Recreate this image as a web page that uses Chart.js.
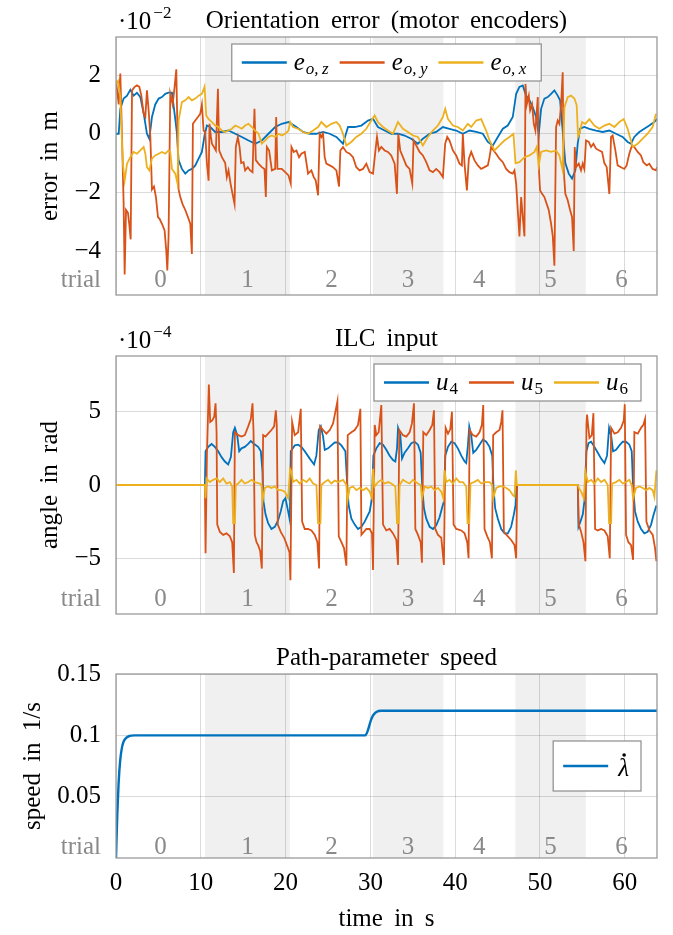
<!DOCTYPE html>
<html>
<head>
<meta charset="utf-8">
<script src="https://cdn.jsdelivr.net/npm/chart.js"></script>
<style>
html, body { margin: 0; padding: 0; background: #fff; }
#wrap { position: relative; width: 673px; height: 935px; }
.box { position: absolute; left: 0; width: 673px; }
</style>
</head>
<body>
<div id="wrap">
  <div class="box" style="top:0;height:300px"><canvas id="errChart"></canvas></div>
  <div class="box" style="top:320px;height:300px"><canvas id="ilcChart"></canvas></div>
  <div class="box" style="top:640px;height:295px"><canvas id="speedChart"></canvas></div>
</div>
<script>
// ---- data (time in s) ----

// trial boundaries in s, shaded trials and their labels
const trialEdges = [0, 10.5, 20.5, 30.3, 38.6, 47.1, 55.4, 63.8];
const trialNames = ['0', '1', '2', '3', '4', '5', '6'];
const shadedTrials = [1, 3, 5];

const xTicks = [0, 10, 20, 30, 40, 50, 60];
const xMax = 63.8;

// orientation error, units of 1e-2 m
const errTicks = [-4, -2, 0, 2];
const eoz = [[0,0],[0.32,0],[0.51,0.85],[0.9,1.2],[1.3,1.3],[1.69,1.5],[2.08,1.3],[2.47,1.4],[2.87,1.25],[3.26,0.7],[3.65,0],[3.93,-0.17],[4.24,0.57],[4.63,1.0],[5.03,1.2],[5.42,1.25],[5.81,1.36],[6.2,1.4],[6.6,1.4],[6.99,0.5],[7.19,0],[7.38,-0.9],[7.77,-1.2],[8.17,-1.36],[8.56,-1.25],[8.95,-1.2],[9.35,-1.08],[9.74,-0.85],[10.13,-0.62],[10.44,-0.06],[10.72,0.28],[11.11,0.23],[11.7,0.06],[12.49,0.06],[13.27,0.11],[14.06,0],[14.84,-0.11],[15.63,-0.23],[16.41,-0.34],[17.2,-0.23],[17.98,0],[18.77,0.23],[19.55,0.34],[20.34,0.4],[21.28,0.23],[22.06,0.06],[22.85,0],[23.63,0],[24.42,0.06],[25.2,0],[25.99,-0.11],[26.77,-0.34],[27.36,0.23],[28.15,0.23],[28.93,0.28],[29.72,0.45],[30.31,0.51],[30.89,0.23],[31.68,0.11],[32.46,0],[33.25,0],[34.03,-0.06],[34.82,-0.17],[35.6,-0.34],[36.19,-0.17],[36.98,0],[37.76,0.06],[38.55,0.23],[39.33,0.17],[40.12,0.11],[40.9,0],[41.69,0.11],[42.48,0.06],[43.26,0],[43.85,-0.28],[44.44,-0.4],[45.03,-0.11],[45.62,0.17],[46.2,0.28],[46.79,0.57],[47.19,1.36],[47.58,1.6],[47.97,1.65],[48.36,1.3],[48.76,1.14],[49.15,0.9],[49.54,0.57],[49.86,0],[50.13,0.85],[50.52,1.2],[50.92,1.25],[51.31,1.36],[51.7,1.48],[52.09,1.3],[52.37,1.14],[52.68,0.1],[52.99,-1.0],[53.39,-1.36],[53.78,-1.53],[54.17,-1.25],[54.45,-0.34],[54.72,0.17],[55.23,0.23],[55.82,0.17],[56.61,0.11],[57.39,0.06],[58.18,0.11],[58.96,0],[59.75,-0.11],[60.34,-0.28],[60.73,-0.34],[61.12,-0.11],[61.71,0.06],[62.3,0.17],[62.89,0.28],[63.48,0.4],[63.8,0.51]];
const eoy = [[0,1.8],[0.32,1.0],[0.51,2.05],[0.71,-0.1],[0.9,-2.4],[1.02,-4.8],[1.18,-2.6],[1.41,-2.7],[1.57,-3.1],[1.73,-3.6],[1.89,1.48],[2.2,1.6],[2.47,1.65],[2.75,1.6],[2.99,1.3],[3.26,0.68],[3.46,0.57],[3.65,1.48],[3.85,0.8],[4.05,-0.1],[4.24,-1.9],[4.48,-1.8],[4.71,-2.16],[4.95,-2.84],[5.14,-2.9],[5.42,-3.07],[5.73,-3.3],[5.93,-4.0],[6.05,-4.66],[6.2,-3.5],[6.4,1.36],[6.68,1.0],[6.91,1.6],[7.11,2.2],[7.26,-0.1],[7.38,-1.9],[7.58,-2.16],[7.85,-2.4],[8.17,-2.6],[8.48,-2.84],[8.76,-3.07],[8.95,-4.1],[9.07,0.34],[9.35,0.45],[9.66,0.57],[9.93,0.68],[10.13,1.0],[10.33,0.11],[10.52,0.06],[10.72,-1.0],[10.92,-1.6],[11.03,0.34],[11.19,-0.1],[11.31,-0.34],[11.55,-0.45],[11.78,-0.57],[12.02,1.53],[12.17,-0.57],[12.49,-0.8],[12.88,-1.0],[13.07,-1.48],[13.27,-1.25],[13.51,-1.7],[13.74,-2.05],[13.98,-2.4],[14.13,-0.45],[14.37,-0.11],[14.57,-0.45],[14.76,-1.0],[15.04,-0.97],[15.23,-1.25],[15.55,-1.14],[15.82,-1.25],[16.1,-1.31],[16.33,0.85],[16.49,-0.9],[16.8,-1.02],[17.2,-1.14],[17.51,-1.2],[17.67,-2.16],[17.79,-0.45],[18.06,-0.57],[18.38,-1.25],[18.77,-1.2],[18.89,0.57],[19.04,-1.2],[19.55,-1.2],[19.95,-1.31],[20.34,-1.42],[20.61,-1.7],[20.69,-0.45],[20.96,-0.62],[21.28,-0.57],[21.59,-0.8],[21.86,-0.68],[22.26,-0.62],[22.65,-1.36],[23.04,-1.25],[23.32,-1.48],[23.55,-1.59],[23.83,-2.1],[24.02,0],[24.22,-0.11],[24.42,0],[24.61,-0.8],[24.81,-1.02],[25.2,-1.08],[25.59,-1.14],[25.99,-1.25],[26.3,-1.8],[26.46,-0.57],[26.77,-0.45],[27.16,-0.62],[27.56,-0.68],[27.95,-0.8],[28.34,-1.14],[28.73,-1.25],[29.13,-1.2],[29.52,-1.02],[29.91,-1.31],[30.31,-1.36],[30.62,-0.51],[30.78,-0.11],[31.01,-0.57],[31.29,-0.45],[31.68,-0.57],[32.07,-0.62],[32.46,-0.74],[32.86,-1.02],[33.13,-2.05],[33.29,0],[33.52,-0.57],[33.84,-0.8],[34.23,-1.08],[34.62,-1.2],[34.94,-1.7],[35.09,-0.23],[35.41,-0.4],[35.8,-0.62],[36.19,-0.74],[36.59,-0.97],[36.98,-1.25],[37.37,-1.31],[37.76,-1.2],[38.16,-1.31],[38.55,-1.48],[38.82,-0.34],[39.06,-0.11],[39.33,-0.23],[39.73,-0.57],[40.12,-0.74],[40.51,-1.02],[40.79,-1.08],[40.9,0],[41.1,-1.02],[41.38,-1.93],[41.61,-0.85],[41.89,-0.62],[42.28,-0.91],[42.67,-1.08],[43.06,-1.2],[43.46,-1.14],[43.85,-1.08],[44.05,-0.8],[44.24,-0.45],[44.52,-0.57],[44.83,-0.68],[45.22,-0.85],[45.62,-0.97],[46.01,-1.2],[46.4,-1.31],[46.79,-1.36],[46.99,-1.25],[47.19,-1.7],[47.38,-2.6],[47.58,-3.5],[47.78,-2.16],[47.97,-2.84],[48.17,-3.5],[48.29,1.7],[48.44,1.0],[48.68,1.3],[48.84,0.8],[49.07,1.0],[49.27,0.34],[49.46,0.11],[49.74,1.25],[49.86,-1.14],[50.01,-1.93],[50.25,-2.05],[50.52,-2.16],[50.8,-2.4],[51.03,-2.6],[51.31,-3.07],[51.51,-3.5],[51.7,-4.5],[51.9,0.23],[52.09,0.45],[52.29,0.34],[52.49,1.0],[52.68,2.1],[52.8,-1.25],[52.99,-2.05],[53.27,-2.27],[53.55,-2.6],[53.78,-2.84],[53.98,-4.0],[54.1,-0.45],[54.25,-1.14],[54.57,-1.02],[54.84,-1.25],[55.04,-1.02],[55.23,-1.2],[55.43,-0.23],[55.75,-0.28],[56.02,-0.45],[56.3,-0.34],[56.61,-0.51],[57.0,-0.57],[57.32,-0.62],[57.59,-1.0],[57.87,-1.14],[58.18,-2.05],[58.38,-0.11],[58.57,-0.06],[58.89,-0.57],[59.16,-1.08],[59.55,-1.14],[59.95,-1.2],[60.22,-1.08],[60.53,-0.68],[60.85,-0.4],[61.12,-0.45],[61.52,-0.62],[61.91,-0.74],[62.19,-0.97],[62.58,-1.08],[62.89,-1.02],[63.28,-1.2],[63.68,-1.25],[63.8,-1.14]];
const eox = [[0,1.7],[0.24,1.8],[0.51,1.25],[0.71,-0.34],[0.83,-1.08],[1.02,-1.6],[1.3,-1.02],[1.69,-0.8],[2.08,-0.62],[2.47,-0.68],[2.87,-0.57],[3.26,-0.45],[3.46,-0.68],[3.65,-1.14],[3.93,-1.25],[4.24,-0.85],[4.63,-0.74],[5.03,-0.68],[5.42,-0.62],[5.81,-0.68],[6.2,-0.57],[6.4,-0.62],[6.6,-1.2],[6.99,-1.36],[7.26,-1.7],[7.38,0.45],[7.77,1.08],[8.17,1.14],[8.56,1.25],[8.95,1.14],[9.35,1.2],[9.74,1.3],[10.13,1.36],[10.44,1.6],[10.64,0.62],[10.92,0.5],[11.31,0.4],[11.7,0.28],[12.09,0.23],[12.49,0.11],[12.88,0.06],[13.27,0.11],[13.66,0.17],[14.06,0.28],[14.45,0.23],[14.84,0.17],[15.23,0.28],[15.63,0.34],[16.02,0.23],[16.41,0.11],[16.8,0],[17.2,-0.34],[17.59,-0.23],[17.98,-0.11],[18.38,-0.06],[18.77,-0.11],[19.16,0],[19.55,-0.06],[19.95,0],[20.34,0.11],[20.55,0.4],[20.88,0.23],[21.47,0.17],[22.06,0.06],[22.65,0],[23.24,0.11],[23.83,0.23],[24.22,0.4],[24.81,0.23],[25.4,0.34],[25.99,0.4],[26.38,0.28],[26.77,0],[27.16,-0.4],[27.75,-0.28],[28.34,-0.11],[28.93,0],[29.52,0.17],[30.11,0.45],[30.5,0.62],[30.89,0.4],[31.48,0.23],[32.07,0.11],[32.66,0],[33.25,0.4],[33.84,0.17],[34.43,0.06],[35.02,-0.06],[35.6,-0.11],[36.19,-0.4],[36.78,-0.11],[37.37,0.11],[37.96,0.28],[38.55,0.57],[38.82,0.85],[39.14,0.51],[39.73,0.28],[40.32,0.23],[40.9,0.11],[41.49,0.34],[41.89,0.23],[42.48,0.45],[43.06,0.5],[43.65,0.11],[44.05,-0.23],[44.63,-0.57],[45.22,-0.4],[45.81,-0.23],[46.4,-0.11],[46.87,0],[47.11,-1.0],[47.58,-0.97],[48.17,-0.8],[48.76,-0.74],[49.35,-0.62],[49.62,-0.45],[49.86,-1.08],[50.13,-0.62],[50.72,-0.57],[51.31,-0.62],[51.9,-0.57],[52.29,-0.74],[52.68,-1.25],[52.88,0.9],[53.27,1.25],[53.66,1.3],[54.06,1.2],[54.33,0.97],[54.49,-0.1],[54.65,0],[54.96,0.4],[55.35,0.34],[55.82,0.5],[56.41,0.28],[57.0,0.17],[57.59,0.28],[58.18,0.34],[58.77,0.23],[59.36,0.4],[59.87,0.5],[60.34,0.17],[60.93,-0.45],[61.52,-0.34],[62.11,-0.17],[62.69,0],[63.28,0.23],[63.68,0.68]];

// ILC input, units of 1e-4 rad
const ilcTicks = [-5, 0, 5];
const u4 = [[0,0],[10.48,0],[10.56,2.3],[10.88,2.6],[11.27,2.8],[11.66,2.6],[12.05,2.3],[12.45,1.9],[12.84,1.6],[13.23,1.4],[13.55,1.9],[13.82,3.6],[14.02,3.9],[14.29,3.4],[14.53,2.3],[14.8,2.5],[15.19,2.6],[15.59,2.8],[15.9,3.0],[16.29,2.8],[16.76,2.6],[17.08,2.3],[17.28,0.9],[17.39,-1.1],[17.63,-2.0],[17.94,-2.6],[18.33,-3.0],[18.73,-2.85],[19.12,-2.4],[19.43,-1.8],[19.71,-1.1],[19.98,-0.9],[20.3,-1.8],[20.5,-2.4],[20.61,2.3],[21.08,2.7],[21.48,2.75],[21.87,2.6],[22.26,2.3],[22.85,1.8],[23.36,1.4],[23.63,2.0],[23.91,3.75],[24.15,4.0],[24.42,3.3],[24.62,2.4],[25.01,2.5],[25.4,2.7],[25.79,2.9],[26.19,2.9],[26.58,2.7],[27.05,2.3],[27.29,-0.2],[27.44,-1.4],[27.76,-2.3],[28.15,-2.7],[28.54,-3.0],[28.94,-2.85],[29.33,-2.5],[29.92,-1.8],[30.19,-0.9],[30.35,2.0],[30.7,2.5],[31.1,2.85],[31.49,2.75],[31.88,2.4],[32.27,2.0],[32.67,1.7],[32.94,1.6],[33.14,2.5],[33.26,3.9],[33.53,3.4],[33.73,1.8],[34.04,2.2],[34.43,2.5],[34.83,2.85],[35.22,2.95],[35.61,2.75],[35.93,2.2],[36.12,-0.2],[36.32,-1.6],[36.59,-2.3],[36.99,-2.85],[37.38,-3.0],[37.77,-2.75],[38.16,-2.2],[38.48,-1.5],[38.67,-1.1],[38.83,2.0],[39.15,2.6],[39.54,2.95],[39.93,2.85],[40.32,2.5],[40.72,2.0],[41.11,1.6],[41.3,1.5],[41.5,2.7],[41.66,4.0],[41.89,3.4],[42.13,2.2],[42.48,2.4],[42.87,2.75],[43.27,3.1],[43.66,2.95],[44.05,2.6],[44.37,2.0],[44.52,-0.2],[44.72,-1.6],[45.03,-2.3],[45.43,-3.0],[45.82,-3.3],[46.21,-3.3],[46.6,-2.85],[46.92,-2.0],[47.11,-1.4],[47.23,0],[54.46,0],[54.54,-2.85],[54.77,-2.5],[55.05,-2.0],[55.24,-1.1],[55.48,2.3],[55.72,2.85],[56.03,2.95],[56.42,2.6],[56.82,2.2],[57.21,1.8],[57.6,1.5],[57.91,2.0],[58.15,3.9],[58.39,3.4],[58.62,2.3],[58.97,2.4],[59.37,2.7],[59.76,2.95],[60.15,2.95],[60.54,2.75],[60.82,2.3],[60.98,-0.2],[61.21,-1.8],[61.53,-2.5],[61.92,-3.0],[62.31,-3.3],[62.7,-3.2],[63.1,-2.7],[63.41,-2.0],[63.73,-1.4]];
const u5 = [[0,0],[10.48,0],[10.56,-4.66],[10.72,2.0],[10.95,6.86],[11.11,4.3],[11.35,4.4],[11.58,4.66],[11.74,5.57],[11.86,3.6],[11.94,-2.7],[12.25,-3.2],[12.64,-3.4],[13.03,-3.3],[13.43,-3.5],[13.7,-3.9],[13.9,-6.0],[14.02,3.6],[14.41,3.4],[14.8,3.3],[15.19,3.4],[15.59,4.0],[15.9,4.5],[16.1,5.57],[16.22,3.6],[16.37,-3.4],[16.57,-3.9],[16.76,-4.1],[17.0,-4.5],[17.2,-5.7],[17.35,3.4],[17.63,3.3],[17.94,3.5],[18.33,3.75],[18.65,4.0],[18.85,5.1],[18.96,4.1],[19.08,-2.7],[19.43,-3.2],[19.83,-3.6],[20.22,-4.2],[20.46,-4.6],[20.57,-6.5],[20.77,4.3],[21.08,3.4],[21.48,3.6],[21.79,5.2],[21.95,-2.5],[22.26,-3.0],[22.65,-3.0],[23.05,-3.1],[23.44,-3.4],[23.75,-3.9],[23.95,-5.7],[24.07,4.0],[24.42,3.75],[24.81,3.5],[25.21,3.75],[25.6,4.2],[26.11,5.7],[26.27,-3.5],[26.58,-3.9],[26.89,-4.3],[27.17,-5.5],[27.33,3.4],[27.76,3.6],[28.15,3.75],[28.54,4.1],[28.82,5.2],[28.94,-3.4],[29.52,-3.0],[29.92,-3.0],[30.19,-3.3],[30.31,-5.8],[30.51,4.1],[30.7,3.4],[30.98,3.6],[31.29,5.45],[31.49,-2.7],[31.88,-3.1],[32.27,-3.0],[32.67,-3.3],[33.06,-3.75],[33.26,-5.45],[33.41,3.75],[33.84,3.4],[34.24,3.3],[34.63,3.6],[34.9,4.2],[35.14,5.57],[35.3,-3.0],[35.61,-3.4],[35.93,-3.9],[36.08,-5.3],[36.24,3.6],[36.59,3.4],[36.99,3.75],[37.3,4.1],[37.5,5.1],[37.65,-3.0],[37.97,-3.4],[38.36,-3.6],[38.67,-5.45],[38.87,3.9],[39.15,3.5],[39.42,3.8],[39.62,5.0],[39.81,-2.7],[40.13,-3.0],[40.72,-3.1],[41.11,-3.3],[41.42,-3.9],[41.58,-5.0],[41.7,3.75],[42.09,3.4],[42.48,3.3],[42.87,3.6],[43.15,4.1],[43.31,5.45],[43.46,-3.0],[43.78,-3.5],[44.09,-3.9],[44.33,-5.0],[44.48,3.4],[44.84,3.6],[45.23,3.75],[45.43,4.3],[45.58,5.1],[45.74,-3.2],[46.21,-3.5],[46.6,-3.75],[47.0,-4.1],[47.19,-5.0],[47.31,0],[54.46,0],[54.58,-2.7],[54.85,-3.2],[55.13,-3.9],[55.36,-5.2],[55.48,4.1],[55.55,4.8],[55.83,3.2],[56.11,3.4],[56.3,4.9],[56.5,-3.0],[56.82,-3.1],[57.21,-3.0],[57.6,-3.1],[57.99,-3.5],[58.23,-5.0],[58.39,3.9],[58.78,3.5],[59.17,3.6],[59.56,3.9],[59.88,4.4],[60.0,5.5],[60.15,-3.4],[60.43,-3.9],[60.74,-4.1],[60.98,-5.1],[61.13,3.6],[61.53,3.5],[61.92,3.9],[62.19,4.1],[62.39,4.5],[62.55,-2.5],[62.91,-3.1],[63.3,-3.4],[63.57,-4.3],[63.73,-5.2]];
const u6 = [[0,0],[10.48,0],[10.56,-0.9],[10.68,0.45],[11.07,0.2],[11.46,0.35],[11.86,0.45],[12.25,0.2],[12.64,0.45],[13.03,0.1],[13.43,0.2],[13.7,-0.1],[13.82,-2.6],[14.02,-2.6],[14.13,0],[14.41,0.1],[14.8,0.35],[15.19,0.1],[15.59,0.2],[15.98,0.35],[16.37,0.2],[16.96,0.1],[17.16,0],[17.28,-1.1],[17.55,-0.2],[17.94,-0.1],[18.33,-0.2],[18.73,-0.1],[19.12,-0.35],[19.51,-0.35],[19.9,-0.45],[20.3,-0.9],[20.53,1.1],[20.69,0.9],[20.89,0.2],[21.28,0.35],[21.67,0.1],[22.06,0.35],[22.46,0.2],[22.85,0.45],[23.24,0.1],[23.63,0],[23.83,-2.6],[24.11,-2.6],[24.22,0],[24.62,0.2],[25.01,0.35],[25.4,0.1],[25.79,0.3],[26.19,0.2],[26.78,0.35],[27.17,0],[27.29,-1.1],[27.56,-0.2],[27.95,-0.1],[28.35,-0.35],[28.74,-0.2],[29.13,-0.35],[29.52,-0.2],[29.92,-0.45],[30.19,-0.9],[30.31,1.1],[30.51,-0.1],[30.9,0.2],[31.29,0.35],[31.69,0.1],[32.08,0.2],[32.47,0.1],[32.94,-0.1],[33.14,-2.6],[33.33,-2.6],[33.45,0],[33.84,0.35],[34.24,0.2],[34.63,0.1],[35.02,0.35],[35.61,0.1],[35.93,0],[36.08,-0.9],[36.4,-0.1],[36.79,-0.2],[37.18,-0.1],[37.57,-0.35],[37.97,-0.2],[38.36,-0.45],[38.6,-0.9],[38.75,1.0],[38.95,0.2],[39.34,0.35],[39.73,0.1],[40.13,0.45],[40.52,0.2],[40.91,0.2],[41.3,-0.1],[41.46,-2.6],[41.66,-2.6],[41.81,0.1],[42.21,0.2],[42.68,0.35],[43.07,0.1],[43.46,0.2],[44.05,0.2],[44.37,0],[44.48,-0.9],[44.84,-0.2],[45.23,-0.1],[45.62,-0.1],[46.02,-0.2],[46.41,-0.35],[46.8,-0.7],[47.0,-0.8],[47.15,1.0],[47.27,0],[54.46,0],[54.58,-0.2],[54.85,-0.45],[55.17,-0.9],[55.36,0.9],[55.64,0.2],[56.03,0.35],[56.42,0.1],[56.82,0.45],[57.21,0.2],[57.6,0.35],[57.99,0],[58.15,-2.6],[58.39,-2.6],[58.5,0.1],[58.97,0.2],[59.37,0.35],[59.76,0.1],[60.15,0.2],[60.54,0.35],[60.82,0],[60.98,-0.9],[61.33,-0.2],[61.72,-0.1],[62.12,-0.2],[62.51,-0.35],[62.9,-0.2],[63.29,-0.35],[63.49,-0.8],[63.73,1.0]];

// path-parameter speed in 1/s
const speedTicks = [0.05, 0.1, 0.15];
const lambdaDot = [[0,0],[0.15,0.035],[0.3,0.06],[0.5,0.08],[0.7,0.09],[0.9,0.095],[1.2,0.098],[1.6,0.0995],[2.2,0.1],[29.4,0.1],[29.7,0.104],[30.0,0.111],[30.3,0.116],[30.7,0.119],[31.3,0.12],[63.8,0.12]];

// legend labels: [main, subscript, subscript italic]
const errLabels = [['e', 'o,\u2009z', true], ['e', 'o,\u2009y', true], ['e', 'o,\u2009x', true]];
const ilcLabels = [['u', '4', false], ['u', '5', false], ['u', '6', false]];
const speedLabels = [['\u03bb', '', false]];

// ---- styling ----
const SERIF = '"Liberation Serif", "DejaVu Serif", serif';
const colors = { blue: '#0072bd', orange: '#d95319', yellow: '#edb120' };
const gridColor = 'rgba(0,0,0,0.14)';
const trialColor = '#8a8a8a';

function line(points, color, width, order) {
    return {
        data: points.map(p => ({ x: p[0], y: p[1] })),
        borderColor: color,
        borderWidth: width,
        pointRadius: 0,
        fill: false,
        tension: 0,
        order: order
    };
}

// draws bands, trial numbers, frame, titles and the legend
const decorPlugin = {
    id: 'decor',
    beforeDraw(chart, args, o) {
        const { ctx, chartArea: a, scales: { x } } = chart;
        ctx.save();
        ctx.fillStyle = '#f0f0f0';
        shadedTrials.forEach(i => {
            const x0 = x.getPixelForValue(trialEdges[i]);
            const x1 = x.getPixelForValue(trialEdges[i + 1]);
            ctx.fillRect(x0, a.top, x1 - x0, a.bottom - a.top);
        });
        ctx.restore();
    },
    beforeDatasetsDraw(chart, args, o) {
        const { ctx, chartArea: a, scales: { x } } = chart;
        ctx.save();
        ctx.fillStyle = trialColor;
        ctx.font = '25px ' + SERIF;
        ctx.textAlign = 'center';
        ctx.textBaseline = 'alphabetic';
        const base = a.bottom - o.trialDy;
        trialNames.forEach((name, i) => {
            const mid = (trialEdges[i] + trialEdges[i + 1]) / 2;
            ctx.fillText(name, x.getPixelForValue(mid), base);
        });
        ctx.textAlign = 'right';
        ctx.fillText('trial', a.left - 15, base);
        ctx.restore();
    },
    afterDraw(chart, args, o) {
        const { ctx, chartArea: a } = chart;
        ctx.save();
        // frame
        ctx.strokeStyle = '#9a9a9a';
        ctx.lineWidth = 1.3;
        ctx.strokeRect(a.left, a.top, a.right - a.left, a.bottom - a.top);

        ctx.fillStyle = '#000';
        ctx.textBaseline = 'alphabetic';
        if ('wordSpacing' in ctx) ctx.wordSpacing = '5px';

        // title
        ctx.font = '25px ' + SERIF;
        ctx.textAlign = 'center';
        ctx.fillText(o.title, (a.left + a.right) / 2, o.titleY);

        // exponent marker
        if (o.expo) {
            ctx.textAlign = 'left';
            ctx.font = '25px ' + SERIF;
            const t = '\u00b710';
            ctx.fillText(t, a.left + 2, o.expoY);
            const w = ctx.measureText(t).width;
            ctx.font = '17px ' + SERIF;
            ctx.fillText(o.expo, a.left + 4 + w, o.expoY - 11);
        }

        // x label
        if (o.xlabel) {
            ctx.font = '25px ' + SERIF;
            ctx.textAlign = 'center';
            ctx.fillText(o.xlabel, (a.left + a.right) / 2, o.xlabelY);
        }

        // y label
        ctx.translate(o.ylabelX, (a.top + a.bottom) / 2);
        ctx.rotate(-Math.PI / 2);
        ctx.font = '25px ' + SERIF;
        ctx.textAlign = 'center';
        ctx.textBaseline = 'middle';
        ctx.fillText(o.ylabel, 0, 0);
        ctx.restore();

        drawLegend(chart, o.legend);
    }
};

function drawLegend(chart, lg) {
    const { ctx, chartArea: a } = chart;
    const mainFont = 'italic 25px ' + SERIF;
    const subFont = it => (it ? 'italic ' : '') + '17px ' + SERIF;
    const padL = 10, padR = lg.padR, lineLen = 45, gap = lg.gap, itemGap = 11;
    ctx.save();
    const items = chart.data.datasets.map((d, i) => ({ color: d.borderColor, label: lg.labels[i] }));
    const widths = items.map(it => {
        ctx.font = mainFont;
        let w = ctx.measureText(it.label[0]).width;
        if (it.label[1]) {
            ctx.font = subFont(it.label[2]);
            w += 1 + ctx.measureText(it.label[1]).width;
        }
        return w;
    });
    const bw = padL + padR + items.length * (lineLen + gap) +
        widths.reduce((s, w) => s + w, 0) + (items.length - 1) * itemGap;
    const bh = lg.height;
    let bx, by;
    if (lg.pos === 'top') {
        bx = (a.left + a.right) / 2 - bw / 2;
        by = a.top + lg.offset;
    } else if (lg.pos === 'topright') {
        bx = a.right - 16 - bw;
        by = a.top + lg.offset;
    } else {
        bx = a.right - 16 - bw;
        by = (a.top + a.bottom) / 2 - bh / 2;
    }
    ctx.fillStyle = '#fff';
    ctx.fillRect(bx, by, bw, bh);
    ctx.strokeStyle = '#8c8c8c';
    ctx.lineWidth = 1.2;
    ctx.strokeRect(bx, by, bw, bh);

    let cx = bx + padL;
    const cy = by + bh / 2;
    items.forEach((it, i) => {
        ctx.strokeStyle = it.color;
        ctx.lineWidth = 2.6;
        ctx.beginPath();
        ctx.moveTo(cx, cy);
        ctx.lineTo(cx + lineLen, cy);
        ctx.stroke();
        cx += lineLen + gap;

        ctx.fillStyle = '#000';
        ctx.textAlign = 'left';
        ctx.textBaseline = 'alphabetic';
        ctx.font = mainFont;
        ctx.fillText(it.label[0], cx, cy + lg.textDy);
        const mw = ctx.measureText(it.label[0]).width;
        if (it.label[1]) {
            ctx.font = subFont(it.label[2]);
            ctx.fillText(it.label[1], cx + mw + 1, cy + lg.textDy + 4);
        }
        if (lg.dot) {
            ctx.beginPath();
            ctx.arc(cx + mw * 0.55, cy + lg.textDy - 21, 1.8, 0, Math.PI * 2);
            ctx.fill();
        }
        cx += widths[i] + itemGap;
    });
    ctx.restore();
}

function makeOptions(cfg) {
    const tickFont = { family: SERIF, size: 25 };
    return {
        responsive: true,
        maintainAspectRatio: false,
        animation: false,
        events: [],
        layout: { padding: { top: cfg.areaTop, right: 16, left: 0, bottom: 0 } },
        plugins: {
            legend: { display: false },
            tooltip: { enabled: false },
            decor: cfg
        },
        scales: {
            x: {
                type: 'linear',
                min: 0,
                max: xMax,
                afterBuildTicks: s => { s.ticks = xTicks.map(v => ({ value: v })); },
                afterFit: s => { s.height = cfg.xHeight; s.paddingLeft = 0; s.paddingRight = 0; },
                grid: { color: gridColor, drawTicks: false },
                border: { display: false },
                ticks: {
                    display: cfg.showX,
                    autoSkip: false,
                    maxRotation: 0,
                    padding: 10,
                    color: '#000',
                    font: tickFont
                }
            },
            y: {
                type: 'linear',
                min: cfg.yMin,
                max: cfg.yMax,
                afterBuildTicks: s => { s.ticks = cfg.yTicks.map(v => ({ value: v })); },
                // fixed axis box, no extra room for the end labels
                afterFit: s => { s.width = 116; s.paddingTop = 0; s.paddingBottom = 0; },
                grid: { color: gridColor, drawTicks: false },
                border: { display: false },
                ticks: {
                    padding: 15,
                    color: '#000',
                    font: tickFont,
                    callback: v => String(v).replace('-', '\u2212')
                }
            }
        }
    };
}

new Chart(document.getElementById('errChart'), {
    type: 'line',
    data: {
        datasets: [
            line(eoz, colors.blue, 1.8, 3),
            line(eoy, colors.orange, 1.8, 2),
            line(eox, colors.yellow, 1.8, 1)
        ]
    },
    options: makeOptions({
        areaTop: 37, xHeight: 5, showX: false,
        yMin: -5.5, yMax: 3.3, yTicks: errTicks,
        title: 'Orientation error (motor encoders)', titleY: 28,
        expo: '\u22122', expoY: 29,
        ylabel: 'error in m', ylabelX: 50,
        trialDy: 8,
        legend: { pos: 'top', offset: 7, height: 37, labels: errLabels, textDy: 7, gap: 7, padR: 15 }
    }),
    plugins: [decorPlugin]
});

new Chart(document.getElementById('ilcChart'), {
    type: 'line',
    data: {
        datasets: [
            line(u4, colors.blue, 1.8, 3),
            line(u5, colors.orange, 1.8, 2),
            line(u6, colors.yellow, 1.8, 1)
        ]
    },
    options: makeOptions({
        areaTop: 36, xHeight: 6, showX: false,
        yMin: -8.8, yMax: 8.8, yTicks: ilcTicks,
        title: 'ILC input', titleY: 26,
        expo: '\u22124', expoY: 28,
        ylabel: 'angle in rad', ylabelX: 50,
        trialDy: 8,
        legend: { pos: 'topright', offset: 8, height: 37, labels: ilcLabels, textDy: 7, gap: 7, padR: 13 }
    }),
    plugins: [decorPlugin]
});

new Chart(document.getElementById('speedChart'), {
    type: 'line',
    data: {
        datasets: [
            Object.assign(line(lambdaDot, colors.blue, 2.4, 1), { cubicInterpolationMode: 'monotone' })
        ]
    },
    options: makeOptions({
        areaTop: 34, xHeight: 77, showX: true,
        yMin: 0, yMax: 0.15, yTicks: speedTicks,
        title: 'Path-parameter speed', titleY: 25,
        xlabel: 'time in s', xlabelY: 286,
        ylabel: 'speed in 1/s', ylabelX: 33,
        trialDy: 4.5,
        legend: { pos: 'right', height: 50, labels: speedLabels, textDy: 10, gap: 10, padR: 12, dot: true }
    }),
    plugins: [decorPlugin]
});
</script>
</body>
</html>
